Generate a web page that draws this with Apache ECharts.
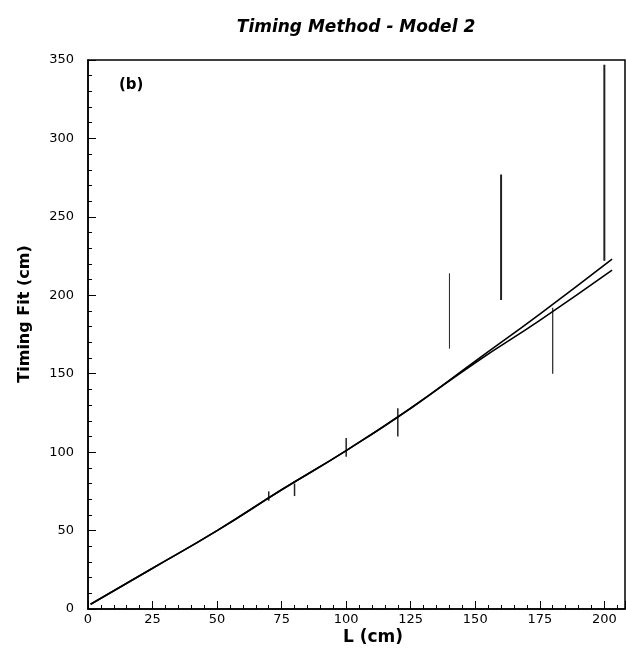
<!DOCTYPE html>
<html>
<head>
<meta charset="utf-8">
<script src="https://cdn.jsdelivr.net/npm/echarts@6/dist/echarts.min.js"></script>
<style>html,body{margin:0;padding:0;background:#fff;}#c{width:626px;height:649px;}</style>
</head>
<body>
<div id="c"></div>
<script>
// Fit curves (L in cm, Timing Fit in cm)
var fitL      = [1, 25, 50, 75, 100, 125, 150, 175, 203];
var fitUpper  = [3, 26, 50, 76, 101, 128, 158, 188, 223];
var fitLower  = [3, 26, 50, 76, 101, 128, 157, 184, 216];
// Error bars: position, low, high
var barL    = [70, 80, 100, 120, 140, 160, 180, 200];
var barLow  = [69, 72, 97, 110, 166, 197, 150, 222];
var barHigh = [75, 80, 109, 128, 214, 277, 192, 347];
var barWidth = [1.5, 1.5, 1.5, 1.5, 1, 2, 1.2, 2];
var xTicks = [0, 25, 50, 75, 100, 125, 150, 175, 200];

var font = 'DejaVu Sans';
var upperData = fitL.map(function (l, i) { return [l, fitUpper[i]]; });
var lowerData = fitL.map(function (l, i) { return [l, fitLower[i]]; });
var barData = barL.map(function (l, i) { return [l, barLow[i], barHigh[i], barWidth[i]]; });

var chart = echarts.init(document.getElementById('c'), null, {renderer: 'canvas'});
chart.setOption({
  backgroundColor: '#fff',
  animation: false,
  title: [
    {text: 'Timing Method - Model 2', left: 351, top: 14, textAlign: 'center',
     textStyle: {fontFamily: font, fontSize: 17, fontWeight: 'bold', fontStyle: 'italic', color: '#000'}},
    {text: '(b)', left: 114, top: 73,
     textStyle: {fontFamily: font, fontSize: 15, fontWeight: 'bold', color: '#000'}}
  ],
  graphic: [
    {type: 'text', x: 25, y: 314, rotation: Math.PI / 2,
     style: {text: 'Timing Fit (cm)', fontFamily: font, fontSize: 16, fontWeight: 'bold', fill: '#000',
             align: 'center', verticalAlign: 'middle'}},
    {type: 'text', x: 373, y: 638,
     style: {text: 'L (cm)', fontFamily: font, fontSize: 17, fontWeight: 'bold', fill: '#000',
             align: 'center', verticalAlign: 'middle'}}
  ],
  grid: {left: 88, right: 1, top: 60, bottom: 40, show: true, borderColor: '#000', borderWidth: 1.5, backgroundColor: 'transparent'},
  xAxis: {
    type: 'value', min: 0, max: 208, interval: 25,
    axisLine: {lineStyle: {color: '#000', width: 1.5}},
    axisTick: {inside: true, length: 8, lineStyle: {color: '#000', width: 1}},
    minorTick: {show: true, splitNumber: 5, length: 4, lineStyle: {color: '#000', width: 1}},
    axisLabel: {fontFamily: font, fontSize: 13, color: '#000', margin: 4, showMaxLabel: false,
      formatter: function (v) { return xTicks.indexOf(v) >= 0 ? String(v) : ''; }},
    splitLine: {show: false}
  },
  yAxis: {
    type: 'value', min: 0, max: 350, interval: 50,
    axisLine: {lineStyle: {color: '#000', width: 1.5}},
    axisTick: {inside: true, length: 8, lineStyle: {color: '#000', width: 1}},
    minorTick: {show: true, splitNumber: 5, length: 4, lineStyle: {color: '#000', width: 1}},
    axisLabel: {fontFamily: font, fontSize: 13, color: '#000', margin: 14},
    splitLine: {show: false}
  },
  series: [
    {type: 'line', data: upperData, smooth: true, showSymbol: false,
     lineStyle: {color: '#000', width: 1.6}},
    {type: 'line', data: lowerData, smooth: true, showSymbol: false,
     lineStyle: {color: '#000', width: 1.6}},
    {type: 'custom', data: barData,
     renderItem: function (params, api) {
       var p1 = api.coord([api.value(0), api.value(1)]);
       var p2 = api.coord([api.value(0), api.value(2)]);
       return {type: 'line', shape: {x1: p1[0], y1: p1[1], x2: p2[0], y2: p2[1]},
               style: {stroke: '#222', lineWidth: api.value(3)}};
     }}
  ]
});
</script>
</body>
</html>
